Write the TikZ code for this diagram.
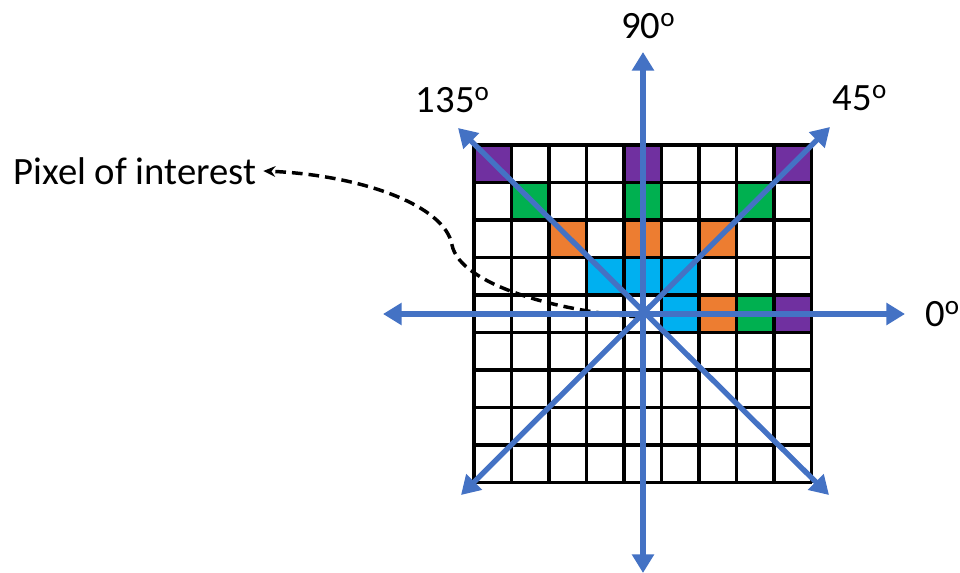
\documentclass[tikz,border=0pt]{standalone}
\usepackage{fontspec}
\setmainfont{Carlito}
\usepackage{tikz}
\usetikzlibrary{arrows.meta,positioning}

\definecolor{cpurple}{HTML}{7030A0}
\definecolor{cgreen}{HTML}{00B050}
\definecolor{corange}{HTML}{ED7D31}
\definecolor{ccyan}{HTML}{00B0F0}
\definecolor{cblue}{HTML}{4472C4}

\begin{document}
\begin{tikzpicture}[
    x=0.75pt, y=-0.75pt,
    lbl/.style={inner sep=0pt, font=\fontsize{29}{34}\selectfont},
    gridline/.style={line width=2.6pt, black},
    dirarrow/.style={cblue, line width=4pt, {Triangle[length=14pt,width=16pt]}-{Triangle[length=14pt,width=16pt]}},
    pointer/.style={black, line width=2.6pt, dash pattern=on 8pt off 4.5pt, -{Stealth[length=9pt,width=8pt]}}
]
\useasboundingbox (0,0) rectangle (960,573);
\def\gx{474}
\def\gy{145}
\def\cs{37.5}

% Cells
\foreach \col/\row/\clr in {0/0/cpurple, 4/0/cpurple, 8/0/cpurple,
                            1/1/cgreen, 4/1/cgreen, 7/1/cgreen,
                            2/2/corange, 4/2/corange, 6/2/corange,
                            3/3/ccyan, 4/3/ccyan, 5/3/ccyan,
                            5/4/ccyan, 6/4/corange, 7/4/cgreen, 8/4/cpurple}
  \fill[\clr] ({\gx+\col*\cs},{\gy+\row*\cs}) rectangle ++(\cs,\cs);

% Grid
\foreach \i in {0,...,9} {
  \draw[gridline] ({\gx+\i*\cs},\gy) -- ({\gx+\i*\cs},{\gy+9*\cs});
  \draw[gridline] (\gx,{\gy+\i*\cs}) -- ({\gx+9*\cs},{\gy+\i*\cs});
}

% Nodes
\coordinate (c) at (643,314);
\coordinate (e) at (905,314);
\coordinate (w) at (383,314);
\coordinate (n) at (643,52);
\coordinate (s) at (643,573);
\coordinate (ne) at (830,127);
\coordinate (sw) at (461,495);
\coordinate (nw) at (458,128);
\coordinate (se) at (829,495);

\node[lbl] (poi) at (135,171) {Pixel of interest};
\node[lbl, right=15pt of e] (l0) {0\textsuperscript{o}};
\node[lbl, above=10pt of n, xshift=4pt] (l90) {90\textsuperscript{o}};
\node[lbl, above=11pt of nw, xshift=-4pt] (l135) {135\textsuperscript{o}};
\node[lbl, above right=12pt and 2pt of ne] (l45) {45\textsuperscript{o}};

% Pointer
\draw[pointer] (640,317) .. controls (560,312) and (460,285) .. (452,245)
  .. controls (445,205) and (360,175) .. ([xshift=5pt]poi.east);

% Arrows
\draw[dirarrow] (w) -- (e);
\draw[dirarrow] (s) -- (n);
\draw[dirarrow] (sw) -- (ne);
\draw[dirarrow] (se) -- (nw);
\end{tikzpicture}
\end{document}
